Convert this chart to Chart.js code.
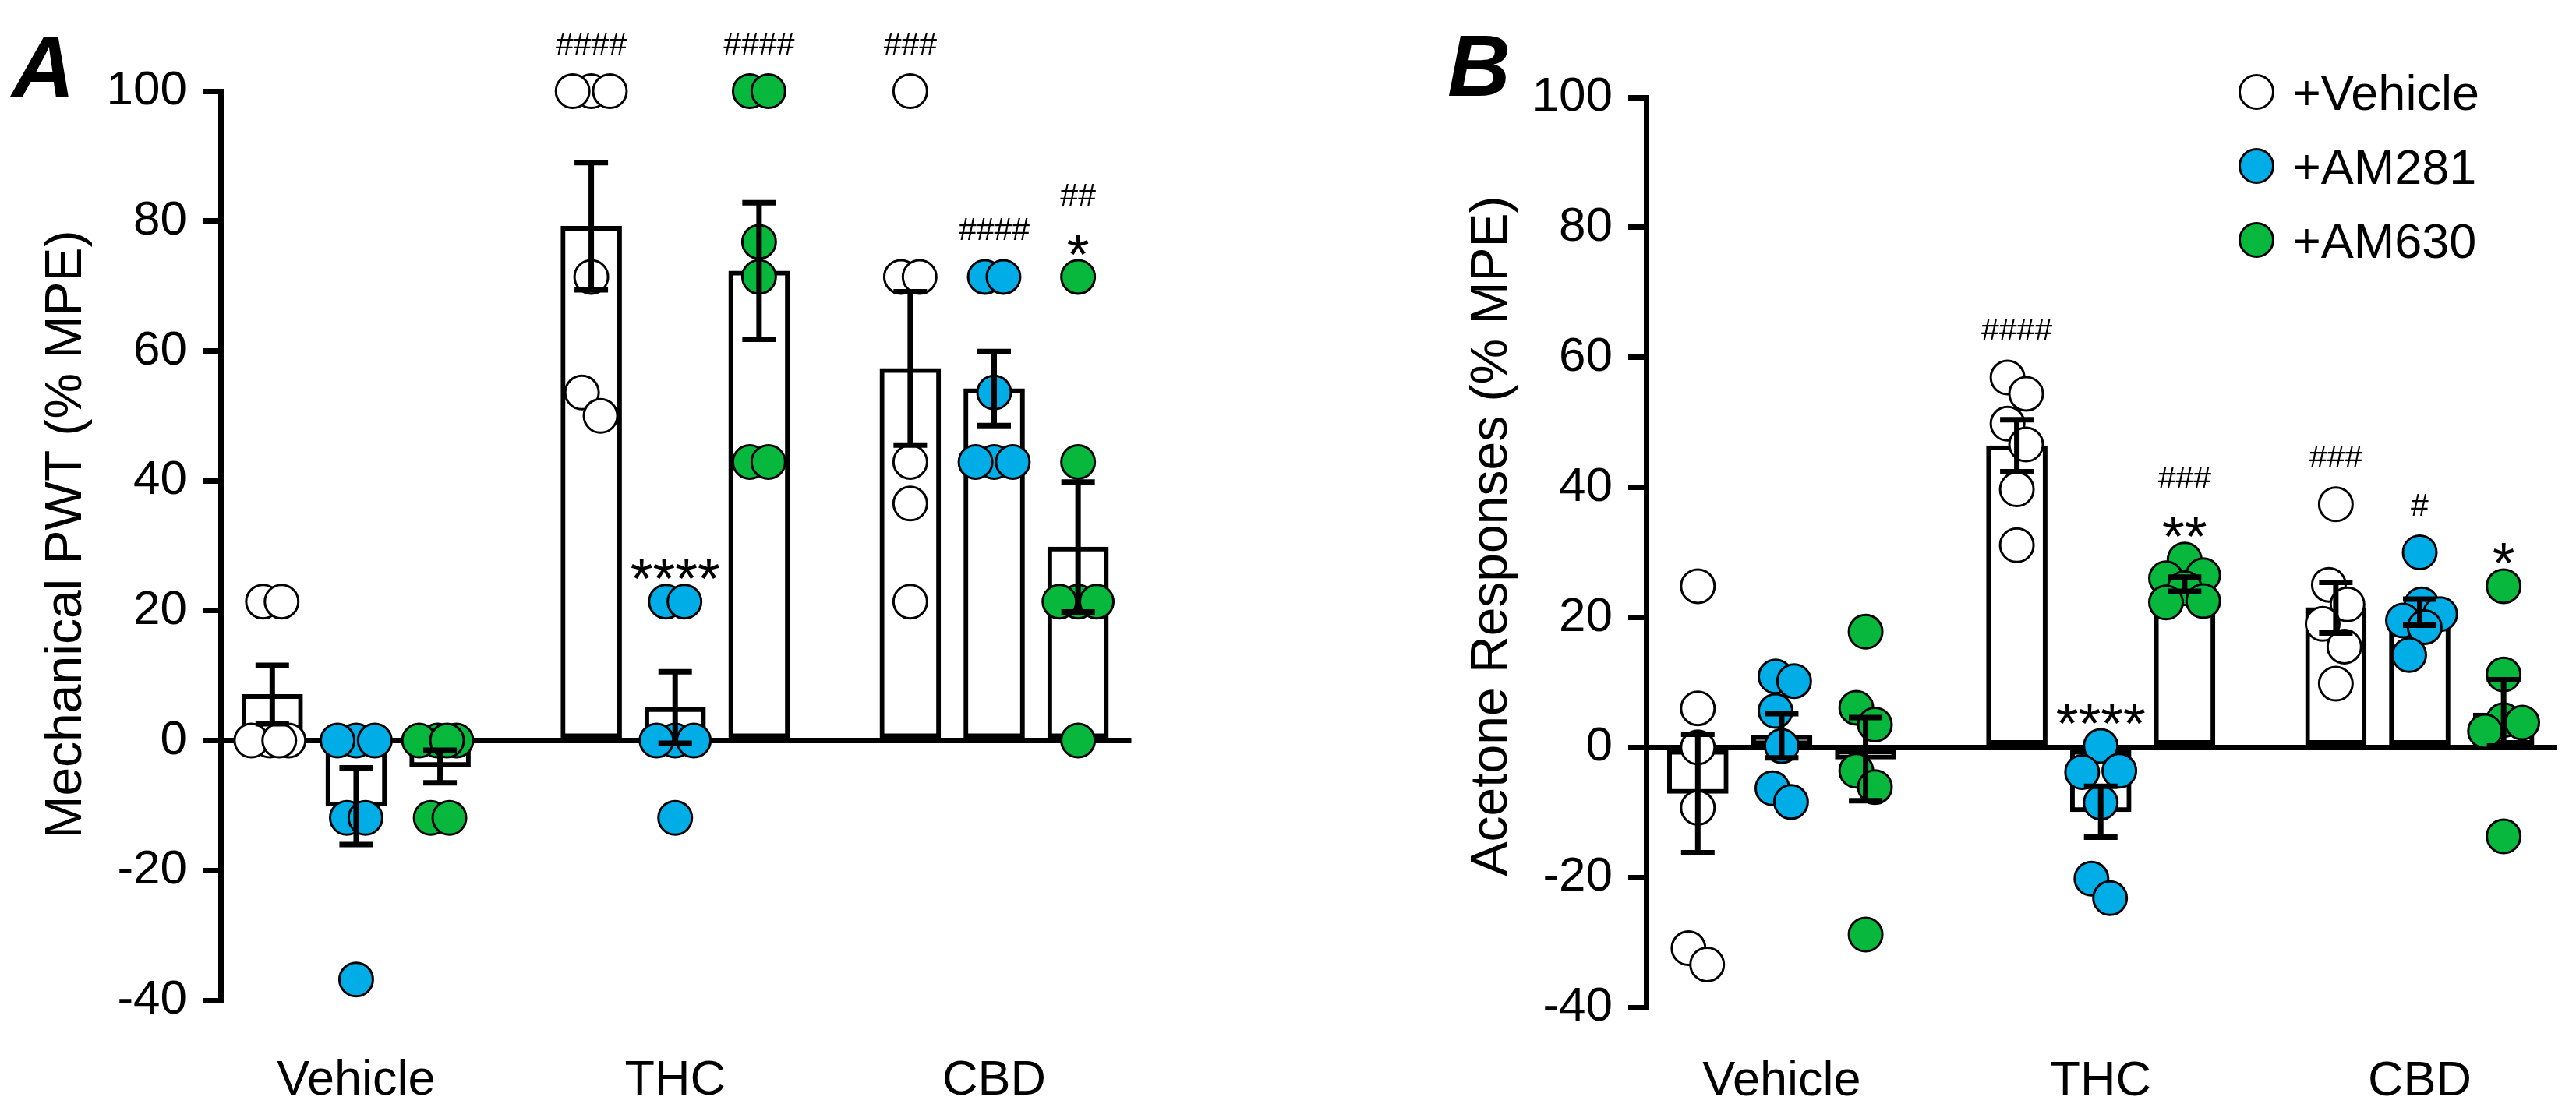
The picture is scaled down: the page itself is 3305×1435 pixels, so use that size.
<!DOCTYPE html>
<html>
<head>
<meta charset="utf-8">
<title>Mechanical PWT and Acetone Responses</title>
<script src="https://cdn.jsdelivr.net/npm/chart.js@4.4.1/dist/chart.umd.min.js"></script>
<style>
  html, body { margin:0; padding:0; background:#fff; }
  body { width:3305px; height:1435px; position:relative; overflow:hidden; }
  .panel { position:absolute; top:0; width:1476px; height:1435px; }
  #panelA { left:0; }
  #panelB { left:1829px; }
</style>
</head>
<body>
<div id="panelA" class="panel"><canvas id="chartA"></canvas></div>
<div id="panelB" class="panel"><canvas id="chartB"></canvas></div>
<script>
// ================= DATA =================
const categories   = ['Vehicle', 'THC', 'CBD'];
const seriesLabels = ['+Vehicle', '+AM281', '+AM630'];
const yTickValues  = [-40, -20, 0, 20, 40, 60, 80, 100];

// ---- Panel A : Mechanical PWT (% MPE) ----
const mechMeanVehicle = [7.1, 79.2, 57.3];
const mechMeanAM281   = [-10.1, 5.1, 54.2];
const mechMeanAM630   = [-4.0, 72.3, 29.8];
const mechSemVehicle  = [4.5, 9.8, 11.8];
const mechSemAM281    = [5.9, 5.5, 5.7];
const mechSemAM630    = [2.5, 10.5, 10.0];
const mechPtsVehicle  = [[21.4, 21.4, 0, 0, 0, 0], [100, 100, 100, 71.4, 53.6, 50.0], [100, 71.4, 71.4, 42.9, 36.5, 21.4]];
const mechPtsAM281    = [[0, 0, 0, -11.9, -11.9, -36.8], [21.4, 21.4, 0, 0, 0, -11.9], [71.4, 71.4, 53.6, 42.9, 42.9, 42.9]];
const mechPtsAM630    = [[0, 0, 0, 0, -11.9, -11.9], [100, 100, 76.8, 71.4, 42.9, 42.9], [71.4, 42.9, 21.4, 21.4, 21.4, 0]];
const mechStarVehicle = ['', '', ''];
const mechStarAM281   = ['', '****', ''];
const mechStarAM630   = ['', '', '*'];
const mechHashVehicle = ['', '####', '###'];
const mechHashAM281   = ['', '', '####'];
const mechHashAM630   = ['', '####', '##'];

// ---- Panel B : Acetone Responses (% MPE) ----
const aceMeanVehicle = [-7.1, 46.4, 21.5];
const aceMeanAM281   = [1.8, -9.9, 20.8];
const aceMeanAM630   = [-1.8, 25.1, 5.3];
const aceSemVehicle  = [9.1, 4.0, 3.9];
const aceSemAM281    = [3.4, 3.9, 2.0];
const aceSemAM630    = [6.4, 1.1, 5.1];
const acePtsVehicle  = [[24.8, 6.0, 0, -9.3, -30.9, -33.4], [56.9, 54.4, 49.8, 46.6, 39.7, 31.1], [37.4, 25.0, 22.0, 19.0, 15.5, 9.8]];
const acePtsAM281    = [[10.9, 10.2, 5.6, 0.2, -6.3, -8.4], [0.2, -3.6, -3.8, -8.5, -20.2, -23.2], [30.0, 22.0, 20.5, 19.5, 18.5, 14.2]];
const acePtsAM630    = [[17.8, 6.1, 3.5, -3.6, -6.1, -28.8], [28.9, 26.5, 26.0, 24.5, 22.5, 22.3], [24.8, 11.2, 4.2, 3.8, 2.5, -13.7]];
const aceStarVehicle = ['', '', ''];
const aceStarAM281   = ['', '****', ''];
const aceStarAM630   = ['', '**', '*'];
const aceHashVehicle = ['', '####', '###'];
const aceHashAM281   = ['', '', '#'];
const aceHashAM630   = ['', '###', ''];

// ================= STYLE / LAYOUT =================
const FONT = "'Liberation Sans', Arial, Helvetica, sans-serif";
const seriesColors = ['#ffffff', '#00ADE6', '#08B83C'];
const X_MIN = 0.575, X_MAX = 3.43, BAR_SHIFT = 0.263;
const POINT_R = 21.5, POINT_BW = 3;

Chart.defaults.font.family = FONT;
Chart.defaults.color = '#000';

// deterministic scatter-dot layout (beeswarm-like, clusters centred on the bar)
function swarmOffsets(values, pxPerX, pxPerY) {
  const minD = 40, maxOff = 24, step = 4;
  const cands = [0];
  for (let k = step; k <= maxOff; k += step) cands.push(k, -k);
  const order = values.map((v, i) => i).sort((a, b) => values[b] - values[a]);
  const placed = [];
  const offPx = new Array(values.length).fill(0);
  for (const i of order) {
    const yy = -values[i] * pxPerY;
    let best = 0, bestD = -1;
    for (const c of cands) {
      let d = Infinity;
      for (const p of placed) d = Math.min(d, Math.hypot(p.x - c, p.y - yy));
      if (d >= minD) { best = c; bestD = d; break; }
      if (d > bestD + 1e-9) { bestD = d; best = c; }
    }
    placed.push({ x: best, y: yy });
    offPx[i] = best;
  }
  // centre each vertically-connected cluster
  let cluster = [];
  const flush = () => {
    if (cluster.length > 1) {
      const m = cluster.reduce((a, i) => a + offPx[i], 0) / cluster.length;
      cluster.forEach(i => { offPx[i] -= m; });
    }
    cluster = [];
  };
  order.forEach((i, k) => {
    if (k > 0 && (values[order[k - 1]] - values[i]) * pxPerY >= minD) flush();
    cluster.push(i);
  });
  flush();
  return offPx.map(o => o / pxPerX);
}

function buildPanel(canvasId, panel) {
  const g = panel.geo;
  const pxPerX = (g.right - g.left) / (X_MAX - X_MIN);
  const pxPerY = (g.bottom - g.top) / (yTickValues[yTickValues.length - 1] - yTickValues[0]);

  const barSets = panel.series.map((s, si) => ({
    type: 'bar',
    label: seriesLabels[si],
    data: s.mean.map((m, gi) => ({ x: gi + 1 + (si - 1) * BAR_SHIFT, y: m })),
    backgroundColor: '#ffffff',
    borderColor: '#000000',
    borderWidth: 6,
    borderSkipped: false,
    barThickness: 78,
    maxBarThickness: 78,
    grouped: false,
    order: 3,
    clip: false
  }));

  const ptSets = panel.series.map((s, si) => {
    const data = [];
    s.points.forEach((vals, gi) => {
      const offs = swarmOffsets(vals, pxPerX, pxPerY);
      vals.forEach((v, k) => data.push({ x: gi + 1 + (si - 1) * BAR_SHIFT + offs[k], y: v }));
    });
    return {
      type: 'scatter',
      label: seriesLabels[si] + ' pts',
      data,
      pointRadius: POINT_R,
      pointHoverRadius: POINT_R,
      pointBorderWidth: POINT_BW,
      pointBackgroundColor: seriesColors[si],
      pointBorderColor: '#000000',
      showLine: false,
      order: 2,
      clip: false
    };
  });

  const decor = {
    id: 'decor_' + canvasId,
    afterDatasetsDraw(chart) {
      const ctx = chart.ctx, ys = chart.scales.y;
      ctx.save();
      // error bars: mean ± SEM
      ctx.strokeStyle = '#000';
      ctx.lineWidth = 7;
      ctx.lineCap = 'butt';
      panel.series.forEach((s, si) => {
        const meta = chart.getDatasetMeta(si);
        s.mean.forEach((m, gi) => {
          const cx = meta.data[gi].x;
          const yHi = ys.getPixelForValue(m + s.sem[gi]);
          const yLo = ys.getPixelForValue(m - s.sem[gi]);
          ctx.beginPath();
          ctx.moveTo(cx, yHi); ctx.lineTo(cx, yLo);
          ctx.moveTo(cx - 21.5, yHi); ctx.lineTo(cx + 21.5, yHi);
          ctx.moveTo(cx - 21.5, yLo); ctx.lineTo(cx + 21.5, yLo);
          ctx.stroke();
        });
      });
      // significance marks
      ctx.fillStyle = '#000';
      ctx.textAlign = 'center';
      ctx.textBaseline = 'alphabetic';
      panel.series.forEach((s, si) => {
        const meta = chart.getDatasetMeta(si);
        s.mean.forEach((m, gi) => {
          const star = s.star[gi], hash = s.hash[gi];
          if (!star && !hash) return;
          const topVal = Math.max(m + s.sem[gi], ...s.points[gi]);
          const topPx = ys.getPixelForValue(topVal);
          const cx = meta.data[gi].x;
          if (star) {
            ctx.font = '74px ' + FONT;
            ctx.fillText(star, cx, topPx - 46 + 0.569 * 74);
          }
          if (hash) {
            const c = topPx - (star ? 106 : 62);
            ctx.font = '41px ' + FONT;
            ctx.fillText(hash, cx, c + 0.358 * 41);
          }
        });
      });
      ctx.restore();
    },
    afterDraw(chart) {
      const ctx = chart.ctx;
      ctx.save();
      ctx.fillStyle = '#000';
      // y-axis title
      ctx.save();
      ctx.translate(g.titleX, g.titleY);
      ctx.rotate(-Math.PI / 2);
      ctx.textAlign = 'center';
      ctx.textBaseline = 'middle';
      ctx.font = '66px ' + FONT;
      ctx.fillText(panel.yTitle, 0, 0);
      ctx.restore();
      // panel letter
      ctx.textAlign = 'left';
      ctx.textBaseline = 'alphabetic';
      ctx.font = 'italic bold 112px ' + FONT;
      ctx.fillText(panel.letter, g.letterX, g.letterY);
      // legend
      if (panel.legend) {
        const L = panel.legend;
        seriesLabels.forEach((lab, si) => {
          const cy = L.y[si];
          ctx.beginPath();
          ctx.arc(L.x, cy, POINT_R, 0, Math.PI * 2);
          ctx.fillStyle = seriesColors[si];
          ctx.fill();
          ctx.lineWidth = POINT_BW;
          ctx.strokeStyle = '#000';
          ctx.stroke();
          ctx.fillStyle = '#000';
          ctx.font = '63px ' + FONT;
          ctx.textBaseline = 'alphabetic';
          ctx.fillText(lab, L.textX, cy + 0.358 * 63);
        });
      }
      ctx.restore();
    }
  };

  return new Chart(document.getElementById(canvasId), {
    type: 'bar',
    data: { datasets: [...barSets, ...ptSets] },
    options: {
      responsive: true,
      maintainAspectRatio: false,
      animation: false,
      events: [],
      devicePixelRatio: 1,
      layout: { padding: { top: g.top, right: g.W - g.right, bottom: 0, left: 0 } },
      plugins: { legend: { display: false }, tooltip: { enabled: false }, title: { display: false } },
      scales: {
        x: {
          type: 'linear',
          min: X_MIN, max: X_MAX,
          offset: false,
          grid: { display: false, drawTicks: false },
          border: { display: false },
          ticks: {
            font: { size: 63 },
            padding: g.labelPad,
            autoSkip: false,
            maxRotation: 0,
            callback: (v) => categories[Math.round(v) - 1] || ''
          },
          afterBuildTicks: (s) => { s.ticks = categories.map((c, i) => ({ value: i + 1 })); },
          afterFit: (s) => { s.height = g.H - g.bottom; }
        },
        y: {
          type: 'linear',
          min: yTickValues[0],
          max: yTickValues[yTickValues.length - 1],
          afterBuildTicks: (s) => { s.ticks = yTickValues.map(v => ({ value: v })); },
          ticks: { font: { size: 62 }, padding: 20 },
          grid: {
            color: (c) => (c.tick && c.tick.value === 0) ? '#000' : 'rgba(0,0,0,0)',
            lineWidth: 7,
            tickColor: '#000',
            tickWidth: 7,
            tickLength: 23,
            drawOnChartArea: true
          },
          border: { display: true, color: '#000', width: 7 },
          title: { display: false },
          afterFit: (s) => { s.width = g.left; }
        }
      }
    },
    plugins: [decor]
  });
}

buildPanel('chartA', {
  letter: 'A',
  yTitle: 'Mechanical PWT (% MPE)',
  geo: { left: 283, right: 1457, top: 117, bottom: 1284, W: 1476, H: 1435, labelPad: 66,
         letterX: 15, letterY: 125, titleX: 86, titleY: 686 },
  series: [
    { mean: mechMeanVehicle, sem: mechSemVehicle, points: mechPtsVehicle, star: mechStarVehicle, hash: mechHashVehicle },
    { mean: mechMeanAM281,   sem: mechSemAM281,   points: mechPtsAM281,   star: mechStarAM281,   hash: mechHashAM281 },
    { mean: mechMeanAM630,   sem: mechSemAM630,   points: mechPtsAM630,   star: mechStarAM630,   hash: mechHashAM630 }
  ],
  legend: null
});

buildPanel('chartB', {
  letter: 'B',
  yTitle: 'Acetone Responses (% MPE)',
  geo: { left: 283, right: 1458, top: 125, bottom: 1293, W: 1476, H: 1435, labelPad: 58,
         letterX: 28, letterY: 123, titleX: 86, titleY: 688 },
  series: [
    { mean: aceMeanVehicle, sem: aceSemVehicle, points: acePtsVehicle, star: aceStarVehicle, hash: aceHashVehicle },
    { mean: aceMeanAM281,   sem: aceSemAM281,   points: acePtsAM281,   star: aceStarAM281,   hash: aceHashAM281 },
    { mean: aceMeanAM630,   sem: aceSemAM630,   points: acePtsAM630,   star: aceStarAM630,   hash: aceHashAM630 }
  ],
  legend: { x: 1066, textX: 1112, y: [118, 213, 308] }
});
</script>
</body>
</html>
